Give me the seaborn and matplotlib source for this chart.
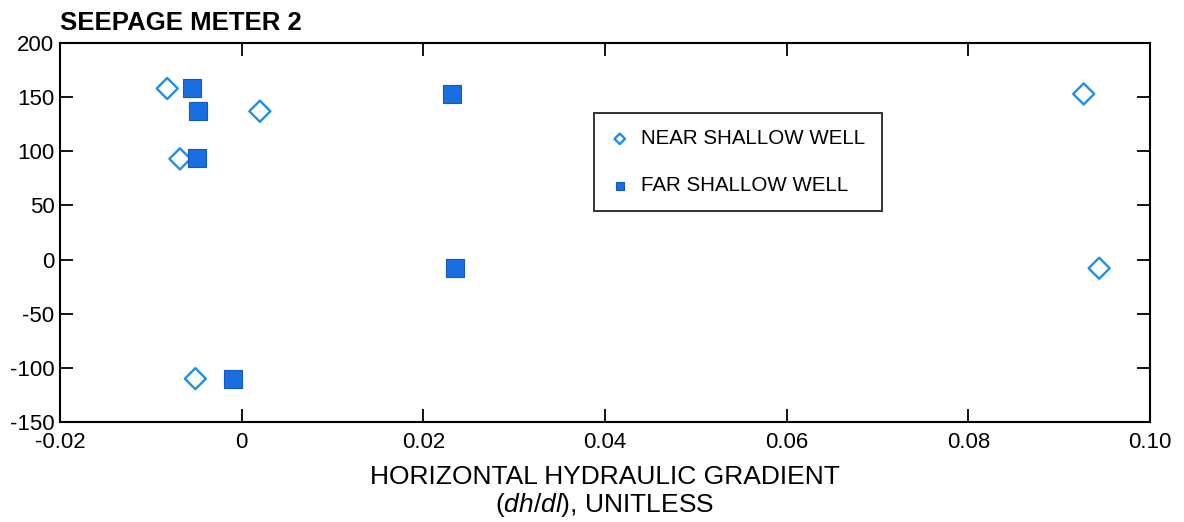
import pandas as pd
import matplotlib
matplotlib.use("Agg")
import matplotlib.pyplot as plt
import seaborn as sns

# Data
near_x = [-0.0082, -0.0068, 0.0020, -0.0051, 0.0927, 0.0944]
near_y = [158, 93, 137, -110, 153, -8]
far_x = [-0.0055, -0.0048, -0.0049, -0.0010, 0.0232, 0.0235]
far_y = [158, 137, 94, -110, 153, -8]

near = pd.DataFrame({"x": near_x, "y": near_y, "well": "NEAR SHALLOW WELL"})
far = pd.DataFrame({"x": far_x, "y": far_y, "well": "FAR SHALLOW WELL"})

sns.set_style("white")
plt.rcParams["font.family"] = ["Liberation Sans", "DejaVu Sans"]
plt.rcParams["text.color"] = "black"
plt.rcParams["axes.labelcolor"] = "black"
plt.rcParams["xtick.color"] = "black"
plt.rcParams["ytick.color"] = "black"
plt.rcParams["axes.unicode_minus"] = False
plt.rcParams["mathtext.fontset"] = "custom"
plt.rcParams["mathtext.rm"] = "Liberation Sans"
plt.rcParams["mathtext.it"] = "Liberation Sans:italic"

fig, ax = plt.subplots(figsize=(11.84, 5.22), dpi=100)
fig.subplots_adjust(left=0.0507, right=0.9713, top=0.9176, bottom=0.1916)

sns.scatterplot(data=near, x="x", y="y", marker="D", s=115, facecolors="none",
                edgecolor="#1e8fe6", linewidth=1.7, ax=ax, label="NEAR SHALLOW WELL")
sns.scatterplot(data=far, x="x", y="y", marker="s", s=150, color="#1a6fe0",
                edgecolor="#1259c8", linewidth=0.8, ax=ax, label="FAR SHALLOW WELL")

ax.set_xlim(-0.02, 0.10)
ax.set_ylim(-150, 200)
ax.set_xticks([-0.02, 0, 0.02, 0.04, 0.06, 0.08, 0.10])
ax.set_xticklabels(["-0.02", "0", "0.02", "0.04", "0.06", "0.08", "0.10"])
ax.set_yticks(range(-150, 201, 50))
ax.tick_params(axis="both", direction="in", length=9.5, width=1.3, labelsize=16,
               top=True, right=True, bottom=True, left=True, pad=4)
ax.tick_params(axis="x", pad=7)
for sp in ax.spines.values():
    sp.set_linewidth(1.5)
    sp.set_color("black")

ax.set_xlabel("HORIZONTAL HYDRAULIC GRADIENT\n($\\it{dh/dl}$), UNITLESS", fontsize=19,
              labelpad=9, linespacing=1.1)
ax.set_ylabel("")
ax.text(0.0, 1.02, "SEEPAGE METER 2", transform=ax.transAxes, fontsize=18.5,
        fontweight="bold", ha="left", va="bottom")

leg = ax.legend(loc="upper left", bbox_to_anchor=(0.4805, 0.843), frameon=True,
                fancybox=False, edgecolor="black", fontsize=14.8, markerscale=0.5,
                handletextpad=0.6, labelspacing=1.35, borderpad=0.8, handlelength=0.9)
leg.get_frame().set_linewidth(1.4)

fig.savefig("out.png", dpi=100)
